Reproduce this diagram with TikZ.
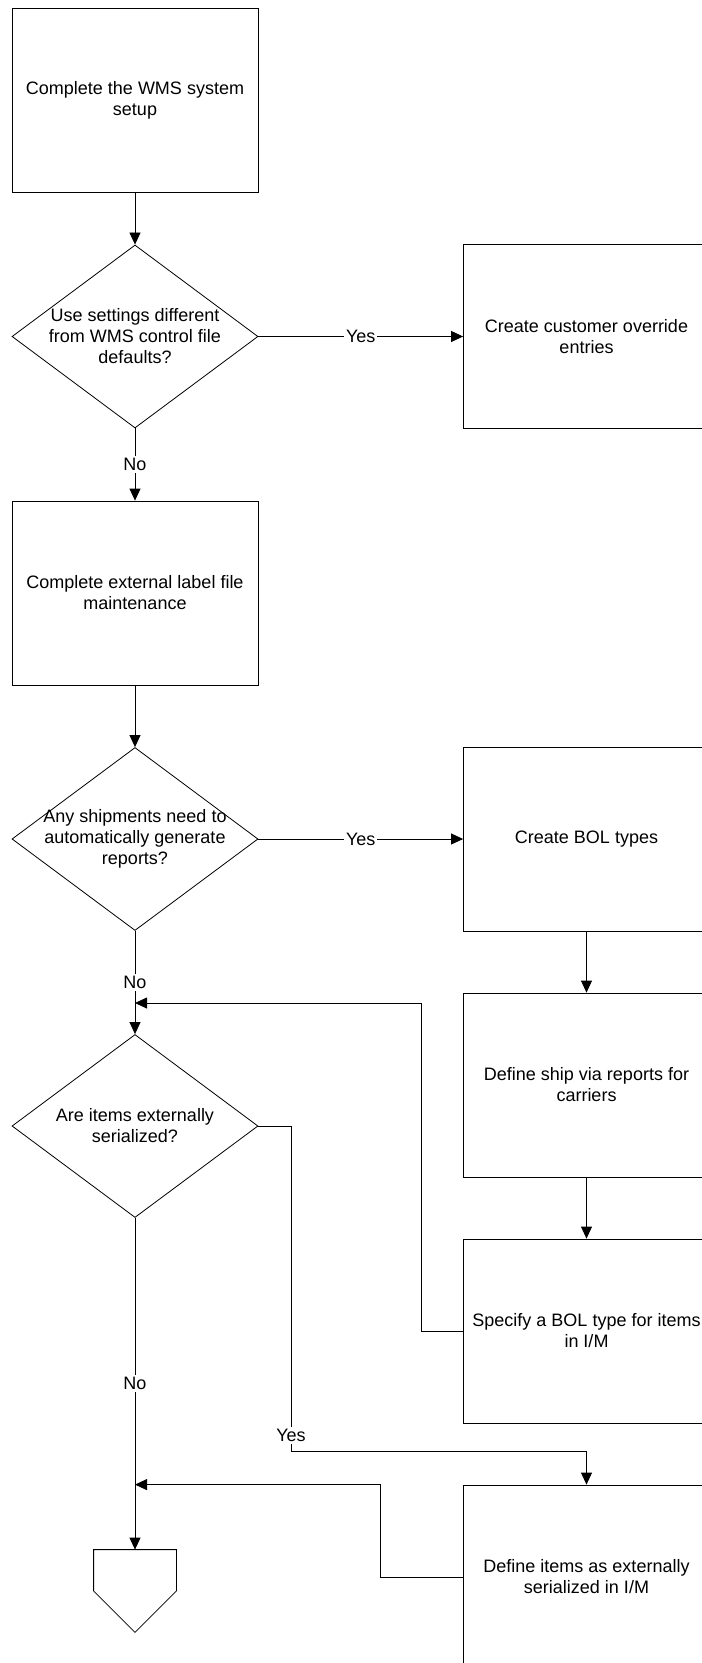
\documentclass[tikz,border=0pt]{standalone}
\usepackage{fontspec}
\setmainfont{Liberation Sans}
\usetikzlibrary{arrows.meta, shapes.geometric}

\begin{document}
\begin{tikzpicture}[
            x = 0.5pt, y = -0.5pt, % one unit is one pixel of the chart
            > = {Triangle[length=6pt, width=5.5pt]}, % arrow head style
            thin, % line style
            font = \fontsize{9}{10.5}\selectfont
        ]

        \tikzstyle{process}=[
            draw = black,
            fill = white,
            minimum width = 123pt,
            minimum height = 92pt,
            align = center,
            inner sep = 0pt
        ]
        \tikzstyle{decision}=[
            draw = black,
            fill = white,
            diamond,
            minimum width = 123pt,
            minimum height = 91.5pt,
            inner sep = 0pt
        ]
        \tikzstyle{answer}=[
            fill = white,
            inner sep = 1pt
        ]

        \useasboundingbox (0,0) rectangle (701,1663);

        % left column
        \node[process] (setup) at (135,100.5) {Complete the WMS system\\setup};
        \node[decision] (dec1) [below of=setup, node distance=118pt]
            [label={[align=center]center:{Use settings different\\from WMS control file\\defaults?}}] {};
        \node[process] (label) [below of=dec1, node distance=128.25pt] {Complete external label file\\maintenance};
        \node[decision] (dec2) [below of=label, node distance=123pt]
            [label={[align=center]center:{Any shipments need to\\automatically generate\\reports?}}] {};
        \node[decision] (dec3) [below of=dec2, node distance=143.5pt]
            [label={[align=center]center:{Are items externally\\serialized?}}] {};
        \node[minimum width=41pt, minimum height=41pt, inner sep=0pt] (offpage) [below of=dec3, node distance=232.5pt] {};

        % right column
        \node[process] (override) [right of=dec1, node distance=225.75pt] {Create customer override\\entries};
        \node[process] (boltypes) [right of=dec2, node distance=225.75pt] {Create BOL types};
        \node[process] (shipvia) [below of=boltypes, node distance=123pt] {Define ship via reports for\\carriers};
        \node[process] (specify) [below of=shipvia, node distance=123pt] {Specify a BOL type for items\\in I/M};
        \node[process] (serial) [below of=specify, node distance=123pt] {Define items as externally\\serialized in I/M};

        \coordinate (merge1) at (135,1003);
        \coordinate (merge2) at (dec3 |- serial.north);

        \draw[fill=white] (offpage.north west) -- (offpage.north east) -- (offpage.east)
            -- (offpage.south) -- (offpage.west) -- cycle;

        \path[->] (setup) edge (dec1);
        \path[->] (dec1) edge node[answer] {Yes} (override);
        \path[->] (dec1) edge node[answer] {No} (label);
        \path[->] (label) edge (dec2);
        \path[->] (dec2) edge node[answer] {Yes} (boltypes);
        \path[->] (dec2) edge node[answer] {No} (dec3);
        \path[->] (boltypes) edge (shipvia);
        \path[->] (shipvia) edge (specify);
        \path[->] (dec3) edge node[answer] {No} (offpage);

        \draw[->] (specify.west) -- ++(-42,0) |- (merge1);
        \draw[->] (serial.west) -- ++(-83,0) |- (merge2);
        \draw[->] (dec3.east) -- ++(32.6,0) -- node[answer, pos=0.95] {Yes} ++(0,325.8) -| (serial.north);

  \end{tikzpicture}
\end{document}
